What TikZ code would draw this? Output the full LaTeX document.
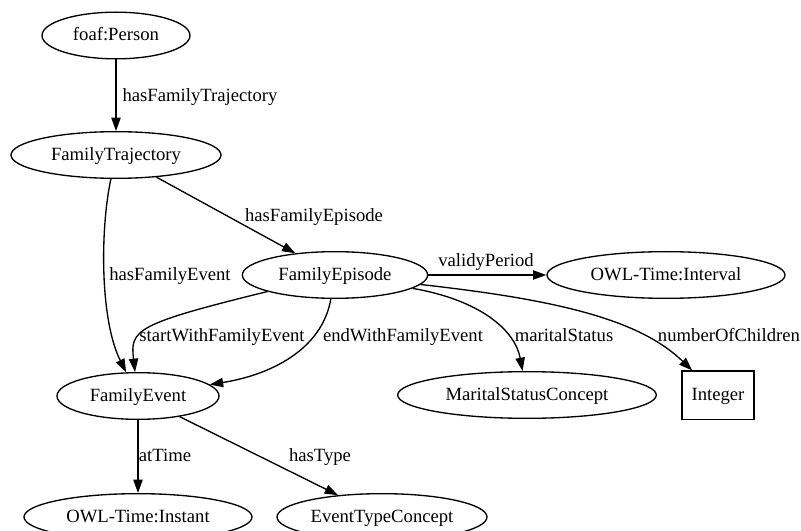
\documentclass[tikz,border=0pt]{standalone}
\usepackage{fontspec}
\setmainfont{Liberation Serif}
\usetikzlibrary{shapes.geometric,arrows.meta}
\begin{document}
\begin{tikzpicture}[x=0.75pt,y=-0.75pt,
  every node/.style={font=\fontsize{14pt}{16pt}\selectfont},
  cls/.style={draw,ellipse,line width=1pt,inner sep=0pt,minimum height=35pt,text height=10pt,text depth=2pt},
  lit/.style={draw,rectangle,line width=1pt,inner sep=0pt,minimum width=54pt,minimum height=36.5pt,text height=10pt,text depth=2pt},
  lbl/.style={inner sep=0pt,text height=10pt,text depth=2pt},
  edge/.style={line width=1pt,-{Triangle[length=10pt,width=7pt]}}]
\useasboundingbox (0,0) rectangle (801,531);
\clip (0,0) rectangle (801,531);
% nodes
\node[cls,minimum width=111pt] (person) at (116,35.5) {foaf:Person};
\node[cls,minimum width=157.5pt] (traj) at (116,155) {FamilyTrajectory};
\node[cls,minimum width=139pt] (epi) at (335,275) {FamilyEpisode};
\node[cls,minimum width=178.5pt] (interval) at (666,275) {OWL-Time:Interval};
\node[cls,minimum width=194pt] (marital) at (527,395) {MaritalStatusConcept};
\node[lit] (integer) at (718,395.5) {Integer};
\node[cls,minimum width=121.5pt] (event) at (138,396) {FamilyEvent};
\node[cls,minimum width=171pt] (instant) at (138,517) {OWL-Time:Instant};
\node[cls,minimum width=157.5pt] (etype) at (382,517) {EventTypeConcept};
% edges
\draw[edge] (person) -- (traj);
\draw[edge] (traj) -- (epi);
\draw[edge] (traj) .. controls (100,230) and (100,320) .. (event);
\draw[edge] (epi) .. controls (135,324) and (130,330) .. (event);
\draw[edge] (epi) .. controls (322,350) and (270,375) .. (event);
\draw[edge] (epi) -- (interval);
\draw[edge] (epi) .. controls (480,300) and (515,330) .. (marital);
\draw[edge] (epi) .. controls (560,300) and (640,320) .. (integer);
\draw[edge] (event) -- (instant);
\draw[edge] (event) -- (etype);
% labels
\node[lbl] (l1) at (200,96) {hasFamilyTrajectory};
\node[lbl] (l2) at (314,216) {hasFamilyEpisode};
\node[lbl] (l3) at (170,275) {hasFamilyEvent};
\node[lbl] (l4) at (222,336) {startWithFamilyEvent};
\node[lbl] (l5) at (403,336) {endWithFamilyEvent};
\node[lbl] (l6) at (486,261) {validyPeriod};
\node[lbl] (l7) at (564,336) {maritalStatus};
\node[lbl] (l8) at (729,336) {numberOfChildren};
\node[lbl] (l9) at (165,456) {atTime};
\node[lbl] (l10) at (320,456) {hasType};
\end{tikzpicture}
\end{document}
